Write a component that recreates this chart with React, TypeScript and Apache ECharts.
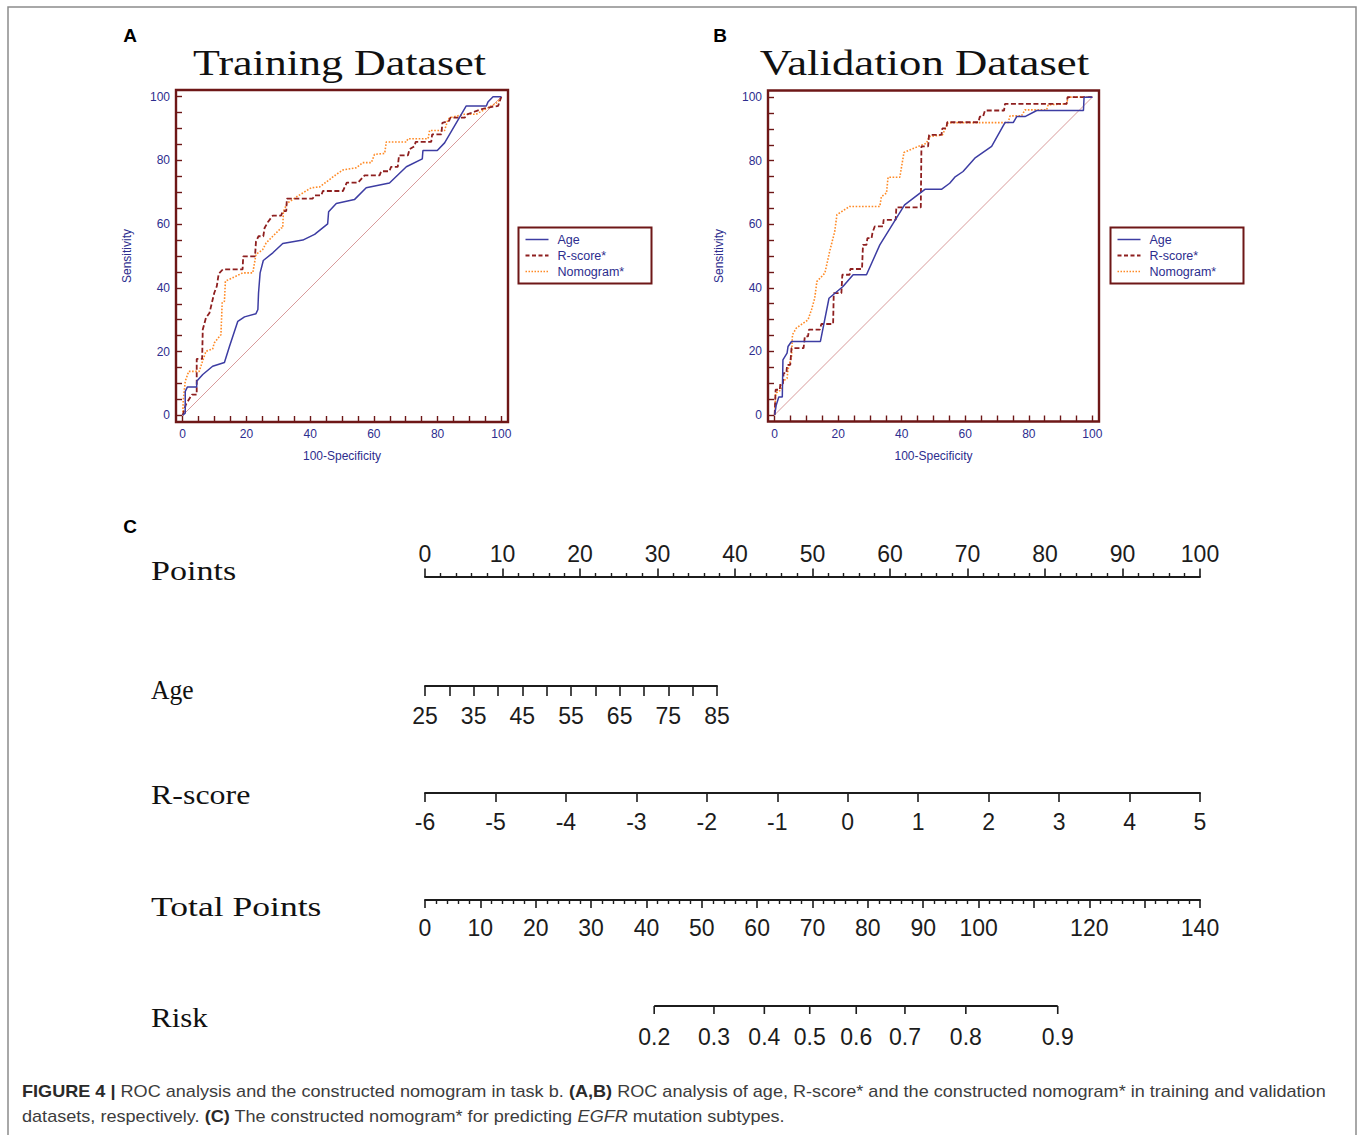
import React, { useEffect, useRef } from "react";
import * as echarts from "echarts";

// ---------------- ROC data (100-Specificity, Sensitivity) ----------------
const trainAge: number[][] = [
  [0, 0], [0.8, 0.7], [0.8, 7.5], [1.5, 8.9], [4.4, 8.9], [4.4, 10.7], [6.3, 12.8], [9.4, 15.4], [13.1, 16.6],
  [14.7, 21.7], [17.3, 29.5], [19.4, 30.9], [23, 31.9], [23.6, 33.2], [23.8, 38.4], [24.3, 44.7], [25.3, 48.6],
  [28.3, 51], [31.4, 53.9], [37.7, 55], [41.4, 56.8], [45.5, 60.1], [45.8, 63.9], [48.2, 66.5], [53.9, 67.7],
  [57.6, 71.4], [64.9, 72.9], [70.2, 78], [75.2, 80.5], [75.4, 83.1], [79.9, 83.1], [82.2, 85.5], [89, 97.1],
  [95.3, 97.1], [95.8, 98.3], [97.4, 100], [100, 100],
];
const trainRscore: number[][] = [
  [0, 0], [1, 3.4], [2.9, 6.5], [4.4, 6.5], [4.4, 17.7], [6.1, 17.7], [6.3, 26.9], [7.3, 30.6], [8.4, 32.1],
  [8.9, 34.2], [9.9, 38.4], [10.7, 40.5], [11.3, 44.4], [12.6, 45.8], [18.8, 45.8], [19, 49.9], [22.7, 49.9],
  [23, 54.5], [23.8, 56.2], [25.3, 56.2], [25.7, 58.8], [26.7, 60.6], [28.3, 62.7], [30.9, 62.7], [31.4, 64.1],
  [32.5, 64.1], [32.7, 68], [40.8, 68], [41.4, 69], [43.5, 69], [44, 70.4], [50.3, 70.4], [51.5, 73], [55, 73],
  [57.1, 75.3], [61.8, 75.3], [62.3, 76.6], [64.9, 76.6], [65.4, 78], [67.5, 78], [67.9, 81.6], [70.7, 81.6],
  [71.2, 83.5], [72.8, 84.5], [73.1, 85.8], [78, 85.8], [78.3, 88.2], [81.2, 88.2], [81.5, 91.8], [83.6, 92.4],
  [84, 93.4], [88.5, 93.4], [89.5, 94.5], [92.1, 95.5], [95.3, 96.5], [99, 97.1], [100, 100],
];
const trainNomogram: number[][] = [
  [0, 0], [0.2, 4.9], [0.8, 10.7], [1.9, 13.8], [5.2, 13.8], [6.1, 16.6], [7.3, 20.1], [9.4, 20.8], [9.9, 22.7],
  [12, 25.3], [12.4, 35.5], [13.1, 35.8], [13.4, 42.1], [16.8, 43.7], [18.8, 44.7], [22, 44.7], [23, 50.5],
  [25.1, 52], [26.2, 54.1], [28.3, 56.2], [30.9, 58.8], [31.4, 58.8], [31.6, 63.8], [32.7, 66.5], [36.1, 68.8],
  [40.3, 71.4], [43, 71.7], [46.1, 74], [48.2, 75.6], [50.3, 77], [54.5, 77.7], [56.5, 79.3], [59.2, 79.3],
  [60.2, 81.9], [63.4, 82.2], [63.9, 85.8], [70.2, 85.8], [70.7, 86.8], [77, 86.8], [77.5, 89.4], [82.2, 89.4],
  [83.2, 92.7], [83.8, 93.4], [88.5, 94.5], [92.1, 94.5], [95.8, 96.5], [99, 98.3], [100, 100],
];
const validAge: number[][] = [
  [0, 0], [0.5, 3.1], [1.3, 5.6], [2.4, 5.6], [2.6, 17.3], [3.9, 19.4], [4.2, 21.5], [5.3, 23.1], [14.4, 23.1],
  [17.1, 36.7], [21.5, 40.4], [24.7, 44.1], [28.9, 44.1], [33.1, 53.5], [37.3, 60.3], [40.9, 66.1], [47.3, 71],
  [52.5, 71], [55.1, 72.9], [56.7, 74.8], [59.3, 76.6], [63, 80.8], [68.3, 84.5], [72.5, 92], [75.1, 92],
  [76.2, 93.9], [78.8, 93.9], [82.5, 95.8], [97.2, 95.8], [97.4, 100], [100, 100],
];
const validRscore: number[][] = [
  [0, 0], [0.3, 7.9], [1.6, 7.9], [1.8, 9.8], [2.6, 9.8], [2.8, 13.1], [3.7, 13.1], [3.9, 15.7], [4.9, 15.7],
  [5.3, 21], [9.1, 21], [9.5, 24.7], [10.5, 24.7], [10.8, 26.8], [14.2, 26.8], [14.7, 28.6], [18.4, 28.6],
  [18.6, 38.3], [21, 38.3], [21.3, 44.1], [23.6, 44.1], [23.8, 45.9], [27.5, 45.9], [27.8, 53.5], [28.9, 53.5],
  [29.2, 55.6], [30.5, 55.6], [30.8, 57.4], [31.5, 59.3], [34.1, 59.3], [34.3, 61.4], [38.1, 61.4], [38.3, 65.3],
  [46, 65.3], [46.2, 84.5], [48.3, 84.5], [48.6, 88.1], [52.5, 88.1], [52.8, 90.2], [54.1, 90.2], [54.3, 92.1],
  [64.1, 92.1], [64.6, 93.9], [65.6, 93.9], [66.2, 95.8], [72.2, 95.8], [72.5, 97.9], [91.9, 97.9], [92.2, 100],
  [100, 100],
];
const validNomogram: number[][] = [
  [0, 0], [0.3, 6.8], [2.1, 7.9], [2.6, 10.5], [3.9, 11.5], [4.2, 14.2], [5.3, 18.4], [5.6, 25.2], [6.8, 27.3],
  [10.5, 29.9], [11.6, 33.1], [12.6, 36.7], [13.3, 42], [15.8, 44.6], [17.3, 51.4], [18.9, 57.7], [19.6, 63],
  [23.6, 65.6], [33.1, 65.6], [33.6, 68.7], [35.2, 69.8], [35.7, 74.8], [39.4, 74.8], [40.7, 82.6], [45.7, 84.7],
  [47.8, 85.5], [48.6, 87.6], [52.8, 88.1], [54.6, 92], [73.5, 92], [74.1, 94.1], [77.7, 94.1], [78.8, 96],
  [85.6, 96], [86.1, 97.6], [91.9, 97.9], [92.4, 100], [100, 100],
];
const diagonal: number[][] = [[0, 0], [100, 100]];
const legendNames = ["Age", "R-score*", "Nomogram*"];
const rocLabelValues = [0, 20, 40, 60, 80, 100];
const rocTickValues = [0, 5, 10, 15, 20, 25, 30, 35, 40, 45, 50, 55, 60, 65, 70, 75, 80, 85, 90, 95, 100];

// ---------------- Nomogram scales ----------------
const pointsRange = [0, 100, 10];
const ageRange = [25, 85, 5];
const ageLabelStep = 10;
const rscoreRange = [-6, 5, 1];
const totalRange = [0, 140, 10];
const totalHiddenLabels = [110, 130];
const riskLabels = [0.2, 0.3, 0.4, 0.5, 0.6, 0.7, 0.8, 0.9];
const riskTotalPoints = [41.4, 52.2, 61.3, 69.5, 77.9, 86.7, 97.7, 114.3];
const rowNames = ["Points", "Age", "R-score", "Total Points", "Risk"];

// ---------------- styles ----------------
const SANS = '"Liberation Sans", Arial, Helvetica, sans-serif';
const SERIF = '"Liberation Serif", "Times New Roman", serif';
const NAVY = "#2d2d8e";
const FRAME = "#6e1717";
const AGE_C = "#3d3da3";
const RS_C = "#8e1f1f";
const NOMO_C = "#ff8a26";
const DIAG_C = "#d89a9a";
const INK = "#1c1c1c";

function rocAxes(gridIndex: number) {
  const tick = { show: true, inside: true, length: 6, customValues: rocTickValues, lineStyle: { color: FRAME, width: 1.4 } };
  const label = { color: NAVY, fontSize: 12, fontFamily: SANS, margin: 6, customValues: rocLabelValues };
  const nameStyle = { color: NAVY, fontSize: 12, fontFamily: SANS };
  const line = { show: false, onZero: false };
  const x = {
    gridIndex, type: "value", min: -2.1, max: 102.1, position: "bottom",
    axisLine: line, axisTick: tick,
    splitLine: { show: false }, axisLabel: label,
    name: "100-Specificity", nameLocation: "middle", nameGap: 28, nameTextStyle: nameStyle,
  };
  const y = {
    gridIndex, type: "value", min: -2.1, max: 102.1, position: "left",
    axisLine: line, axisTick: tick,
    splitLine: { show: false }, axisLabel: label,
    name: "Sensitivity", nameLocation: "middle", nameRotate: 90, nameGap: 43, nameTextStyle: nameStyle,
  };
  return { x, y };
}

function rocSeries(axisIndex: number, age: number[][], rs: number[][], nomo: number[][]) {
  const base = { type: "line", xAxisIndex: axisIndex, yAxisIndex: axisIndex, symbol: "none", showSymbol: false, silent: true };
  return [
    { ...base, name: "diag" + axisIndex, data: diagonal, lineStyle: { color: DIAG_C, width: 1 } },
    { ...base, name: legendNames[2], data: nomo, lineStyle: { color: NOMO_C, width: 1.6, type: [1.6, 1.6] } },
    { ...base, name: legendNames[1], data: rs, lineStyle: { color: RS_C, width: 1.8, type: [5, 2.5] } },
    { ...base, name: legendNames[0], data: age, lineStyle: { color: AGE_C, width: 1.5 } },
  ];
}

function nomoX(gridIndex: number, range: number[], position: string, tickLen: number, margin: number, extra: any = {}) {
  return {
    gridIndex, type: "value", min: range[0], max: range[1], interval: range[2], position,
    axisLine: { show: true, onZero: false, lineStyle: { color: INK, width: 2 } },
    axisTick: { show: true, inside: false, length: tickLen, lineStyle: { color: INK, width: 1.6 } },
    splitLine: { show: false },
    axisLabel: { color: INK, fontSize: 23, fontFamily: SANS, margin, showMinLabel: true, showMaxLabel: true },
    ...extra,
  };
}

function legendGroup(x: number, y: number) {
  const styles = [
    { color: AGE_C, w: 1.5, dash: null },
    { color: RS_C, w: 1.8, dash: [4, 2.5] },
    { color: NOMO_C, w: 1.6, dash: [1.5, 1.5] },
  ];
  const children: any[] = [
    { type: "rect", shape: { x: 0, y: 0, width: 133, height: 56 }, style: { fill: "#fff", stroke: FRAME, lineWidth: 2 } },
  ];
  legendNames.forEach((n, i) => {
    const yy = 12 + i * 16;
    children.push({
      type: "line", shape: { x1: 7, y1: yy, x2: 30, y2: yy },
      style: { stroke: styles[i].color, lineWidth: styles[i].w, lineDash: styles[i].dash || undefined },
    });
    children.push({
      type: "text", x: 39, y: yy,
      style: { text: n, fill: NAVY, fontSize: 12.5, fontFamily: SANS, textAlign: "left", textVerticalAlign: "middle", align: "left", verticalAlign: "middle" },
    });
  });
  return { type: "group", x, y, z: 100, children };
}

function panelLabel(text: string, x: number, y: number) {
  return {
    type: "text", x, y, z: 100,
    style: { text, fill: "#000", fontSize: 19, fontWeight: "bold", fontFamily: SANS, textAlign: "center", textVerticalAlign: "middle", align: "center", verticalAlign: "middle" },
  };
}

export default function App() {
  const ref = useRef<HTMLDivElement>(null);
  useEffect(() => {
    document.body.style.margin = "0";
    if (!ref.current) return;
    const chart = echarts.init(ref.current, null, { renderer: "svg" });
    const ctx = document.createElement("canvas").getContext("2d");
    const measure = (t: string, f: string) => {
      if (!ctx) return 0;
      ctx.font = f;
      return ctx.measureText(t).width;
    };

    // serif (SimSun-like) labels stretched to their monospaced width in the figure
    const serifText = (text: string, x: number, y: number, size: number, advance: number, align: string) => {
      const w = measure(text, `${size}px ${SERIF}`);
      const sx = w > 0 ? (text.length * advance) / w : 1;
      return {
        type: "text", x, y, scaleX: sx, z: 100,
        style: { text, fill: "#111", fontSize: size, fontFamily: SERIF, textAlign: align, textVerticalAlign: "middle", align, verticalAlign: "middle" },
      };
    };

    // caption fitting
    const capSize = 17;
    const fNorm = `${capSize}px ${SANS}`;
    const fBold = `bold ${capSize}px ${SANS}`;
    const parts: [string, string][] = [
      ["FIGURE 4 |", fBold],
      [" ROC analysis and the constructed nomogram in task b. ", fNorm],
      ["(A,B)", fBold],
      [" ROC analysis of age, R-score* and the constructed nomogram* in training and validation", fNorm],
    ];
    let w1 = 0;
    for (const [t, f] of parts) w1 += measure(t, f);
    const capScale = w1 > 0 ? 1304 / w1 : 1;
    const capRich = {
      b: { fontWeight: "bold", fontSize: capSize, fontFamily: SANS, fill: "#2a2a2a" },
      i: { fontStyle: "italic", fontSize: capSize, fontFamily: SANS, fill: "#3c3c3c" },
    };
    const capStyle = (text: string) => ({
      text, fill: "#3c3c3c", fontSize: capSize, fontFamily: SANS, rich: capRich,
      textAlign: "left", textVerticalAlign: "middle", align: "left", verticalAlign: "middle",
    });

    const A = rocAxes(0);
    const B = rocAxes(1);

    const option: any = {
      animation: false,
      backgroundColor: "#fff",
      grid: [
        { left: 176, top: 90, width: 332, height: 332 },
        { left: 768, top: 90.5, width: 331, height: 331 },
        { left: 425, top: 577, width: 775, height: 1 },
        { left: 425, top: 685, width: 292, height: 1 },
        { left: 425, top: 792, width: 775, height: 1 },
        { left: 425, top: 899, width: 775, height: 1 },
        { left: 425, top: 1005, width: 775, height: 1 },
      ],
      xAxis: [
        A.x,
        B.x,
        nomoX(2, pointsRange, "top", 8.5, 12, { minorTick: { show: true, splitNumber: 5, length: 4, lineStyle: { color: INK, width: 1.4 } } }),
        nomoX(3, ageRange, "bottom", 10, 18, {
          axisLabel: { color: INK, fontSize: 23, fontFamily: SANS, margin: 18, formatter: (v: number) => ((v - ageRange[0]) % ageLabelStep === 0 ? String(v) : "") },
        }),
        nomoX(4, rscoreRange, "bottom", 9, 17),
        nomoX(5, totalRange, "bottom", 8, 16, {
          minorTick: { show: true, splitNumber: 5, length: 4, lineStyle: { color: INK, width: 1.4 } },
          axisLabel: { color: INK, fontSize: 23, fontFamily: SANS, margin: 16, formatter: (v: number) => (totalHiddenLabels.indexOf(v) >= 0 ? "" : String(v)) },
        }),
        { gridIndex: 6, type: "value", min: totalRange[0], max: totalRange[1], show: false },
      ],
      yAxis: [
        A.y,
        B.y,
        ...[2, 3, 4, 5, 6].map((g) => ({ gridIndex: g, type: "value", min: 0, max: 1, show: false })),
      ],
      series: [
        ...rocSeries(0, trainAge, trainRscore, trainNomogram),
        ...rocSeries(1, validAge, validRscore, validNomogram),
        {
          type: "line", name: "riskLine", xAxisIndex: 6, yAxisIndex: 6, symbol: "none", silent: true,
          data: [[riskTotalPoints[0], 0], [riskTotalPoints[riskTotalPoints.length - 1], 0]],
          lineStyle: { color: INK, width: 2 },
        },
        {
          type: "custom", name: "riskTicks", xAxisIndex: 6, yAxisIndex: 6, silent: true, clip: false,
          data: riskTotalPoints.map((p, i) => [p, riskLabels[i]]),
          renderItem: (params: any, api: any) => {
            const p = api.coord([api.value(0), 0]);
            return {
              type: "group",
              children: [
                { type: "line", shape: { x1: p[0], y1: p[1], x2: p[0], y2: p[1] + 8 }, style: { stroke: INK, lineWidth: 1.6 } },
                {
                  type: "text", x: p[0], y: p[1] + 31,
                  style: { text: String(riskLabels[params.dataIndex]), fill: INK, fontSize: 23, fontFamily: SANS, align: "center", verticalAlign: "middle", textAlign: "center", textVerticalAlign: "middle" },
                },
              ],
            };
          },
        },
      ],
      graphic: [
        { type: "polyline", z: 90, shape: { points: [[8, 1145], [8, 7], [1356, 7], [1356, 1145]] }, style: { fill: "none", stroke: "#8c8c8c", lineWidth: 1.5 } },
        { type: "rect", z: 95, shape: { x: 176, y: 90, width: 332, height: 332 }, style: { fill: "none", stroke: FRAME, lineWidth: 2.4 } },
        { type: "rect", z: 95, shape: { x: 768, y: 90.5, width: 331, height: 331 }, style: { fill: "none", stroke: FRAME, lineWidth: 2.4 } },
        legendGroup(518.5, 227.5),
        legendGroup(1110.5, 227.5),
        serifText("Training Dataset", 339.5, 62.5, 36, 18.3, "center"),
        serifText("Validation Dataset", 924.5, 63.5, 36, 18.3, "center"),
        panelLabel("A", 130, 35),
        panelLabel("B", 720, 35),
        panelLabel("C", 130, 526),
        serifText(rowNames[0], 151, 571, 26.5, 14.2, "left"),
        serifText(rowNames[1], 151, 690, 26.5, 14.2, "left"),
        serifText(rowNames[2], 151, 795, 26.5, 14.2, "left"),
        serifText(rowNames[3], 151, 907, 26.5, 14.2, "left"),
        serifText(rowNames[4], 151, 1018, 26.5, 14.2, "left"),
        {
          type: "text", x: 22, y: 1091, scaleX: capScale, z: 100,
          style: capStyle("{b|FIGURE 4 |} ROC analysis and the constructed nomogram in task b. {b|(A,B)} ROC analysis of age, R-score* and the constructed nomogram* in training and validation"),
        },
        {
          type: "text", x: 22, y: 1116, scaleX: capScale, z: 100,
          style: capStyle("datasets, respectively. {b|(C)} The constructed nomogram* for predicting {i|EGFR} mutation subtypes."),
        },
      ],
    };
    chart.setOption(option);
    return () => chart.dispose();
  }, []);
  return <div ref={ref} style={{ position: "absolute", left: 0, top: 0, width: 1357, height: 1135, background: "#fff" }} />;
}
